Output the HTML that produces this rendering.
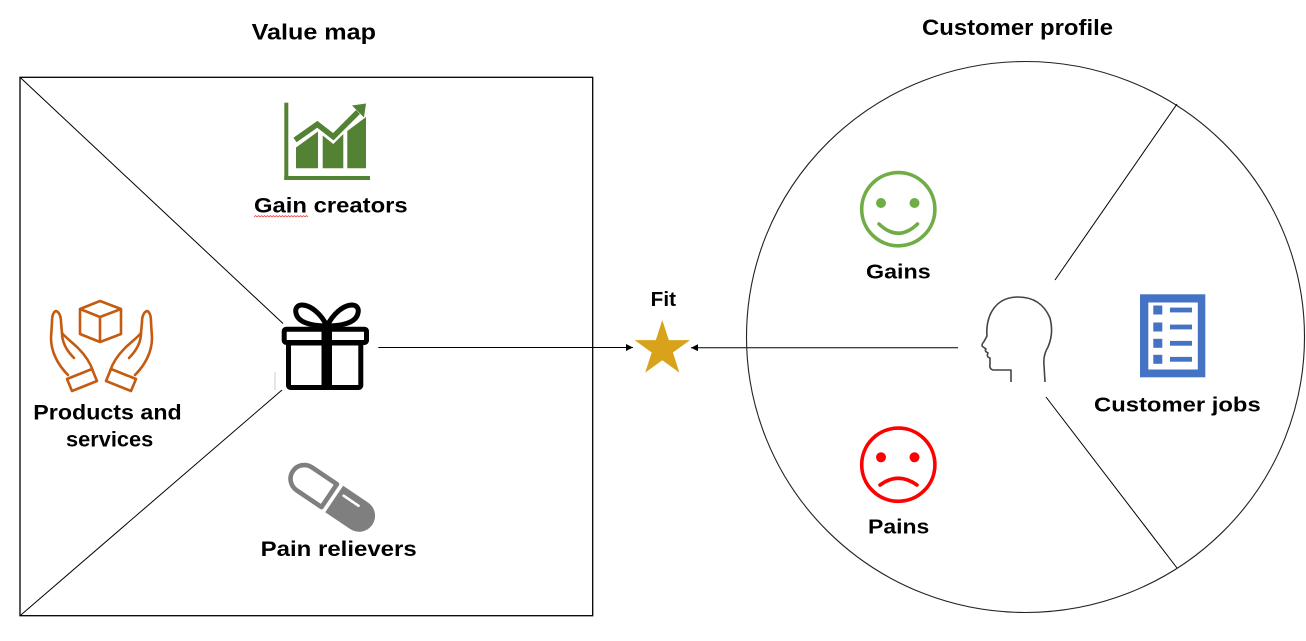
<!DOCTYPE html>
<html>
<head>
<meta charset="utf-8">
<style>
  html, body { margin: 0; padding: 0; background: #fff; }
  svg { display: block; }
  text { font-family: "Liberation Sans", "DejaVu Sans", sans-serif; font-weight: bold; fill: #000; }
</style>
</head>
<body>
<svg width="1306" height="641" viewBox="0 0 1306 641" xmlns="http://www.w3.org/2000/svg">
  <defs>
    <marker id="ah" markerWidth="8" markerHeight="8" refX="7" refY="3.5" orient="auto" markerUnits="userSpaceOnUse">
      <path d="M0,0 L7,3.5 L0,7 Z" fill="#000"/>
    </marker>
  </defs>

  <!-- Titles -->
  <text x="251.7" y="39.3" font-size="22" textLength="124.3" lengthAdjust="spacingAndGlyphs">Value map</text>
  <text x="922" y="34.8" font-size="22" textLength="191" lengthAdjust="spacingAndGlyphs">Customer profile</text>

  <!-- Value map box -->
  <rect x="20" y="77.3" width="572.7" height="538.4" fill="none" stroke="#000" stroke-width="1.3"/>
  <line x1="20" y1="77.3" x2="283" y2="323.5" stroke="#000" stroke-width="1"/>
  <line x1="20" y1="615.7" x2="282" y2="390" stroke="#000" stroke-width="1"/>

  <!-- Gain creators chart -->
  <g fill="#548235">
    <rect x="284.3" y="102.7" width="4" height="77.3"/>
    <rect x="284.3" y="176" width="85.7" height="4"/>
    <polygon points="296,147.5 318,131.5 318,168.3 296,168.3"/>
    <polygon points="322.7,135.5 333.3,144 343.3,134 343.3,168.3 322.7,168.3"/>
    <polygon points="347.3,131 366,117 366,168.3 347.3,168.3"/>
  </g>
  <polyline points="295,140 317.3,124.3 333.3,136.7 358,112" fill="none" stroke="#548235" stroke-width="5.5" stroke-linejoin="miter"/>
  <polygon points="352,105.5 366,103.5 364,117.5" fill="#548235"/>
  <text x="254" y="212.7" font-size="21" textLength="153.7" lengthAdjust="spacingAndGlyphs">Gain creators</text>
  <path d="M254,216.8 l1.5,-1.2 l1.5,1.2 l1.5,-1.2 l1.5,1.2 l1.5,-1.2 l1.5,1.2 l1.5,-1.2 l1.5,1.2 l1.5,-1.2 l1.5,1.2 l1.5,-1.2 l1.5,1.2 l1.5,-1.2 l1.5,1.2 l1.5,-1.2 l1.5,1.2 l1.5,-1.2 l1.5,1.2 l1.5,-1.2 l1.5,1.2 l1.5,-1.2 l1.5,1.2 l1.5,-1.2 l1.5,1.2 l1.5,-1.2 l1.5,1.2 l1.5,-1.2 l1.5,1.2 l1.5,-1.2 l1.5,1.2 l1.5,-1.2 l1.5,1.2 l1.5,-1.2 l1.5,1.2 l1.5,-1.2 l1.5,1.2" fill="none" stroke="#e33" stroke-width="0.8"/>

  <!-- Gift -->
  <g fill="none" stroke="#000" stroke-width="5" stroke-linejoin="round" stroke-linecap="round">
    <path d="M327,326 C314,300 290,300 297,316 C301,324 316,326 327,326"/>
    <path d="M327,326 C340,300 364,300 357,316 C353,324 338,326 327,326"/>
    <rect x="284.2" y="329.2" width="82.3" height="13.3" rx="2"/>
    <rect x="288.5" y="343" width="72.3" height="44.5" rx="2"/>
  </g>
  <rect x="321.5" y="327" width="10.5" height="62" fill="#000"/>
  <line x1="275" y1="372" x2="275" y2="390" stroke="#ccc" stroke-width="1"/>

  <!-- Products and services: hands with box -->
  <g fill="none" stroke="#C55A11" stroke-width="2.6" stroke-linejoin="round" stroke-linecap="round">
    <path d="M80,309 L100,301 L121,309 L121,334 L100,342 L80,334 Z M80,309 L100,317 L121,309 M100,317 L100,342"/>
    <g>
      <path d="M68,375 C58,365 51,352 51,338 L52,322 C52,316 53,312 56,311 C59,312 61,316 61,322 L62,333 C66,338 72,342 78,348 C84,354 90,362 93,371"/>
      <path d="M62,333 C62,342 66,350 74,358"/>
      <path d="M67,379 L92,369 L97,381 L72,391 Z"/>
    </g>
    <g transform="translate(203,0) scale(-1,1)">
      <path d="M68,375 C58,365 51,352 51,338 L52,322 C52,316 53,312 56,311 C59,312 61,316 61,322 L62,333 C66,338 72,342 78,348 C84,354 90,362 93,371"/>
      <path d="M62,333 C62,342 66,350 74,358"/>
      <path d="M67,379 L92,369 L97,381 L72,391 Z"/>
    </g>
  </g>
  <text x="33.3" y="419.3" font-size="21" textLength="148.4" lengthAdjust="spacingAndGlyphs">Products and</text>
  <text x="66" y="446.7" font-size="21" textLength="87.3" lengthAdjust="spacingAndGlyphs">services</text>

  <!-- Pill -->
  <g transform="translate(331.7,497.3) rotate(34)">
    <path d="M-3,-13.8 L-33,-13.8 A13.8,13.8 0 0 0 -33,13.8 L-3,13.8 Z" fill="none" stroke="#7F7F7F" stroke-width="4.6" stroke-linejoin="round"/>
    <path d="M3,-16 L33,-16 A16,16 0 0 1 33,16 L3,16 Z" fill="#7F7F7F"/>
    <line x1="9" y1="-8" x2="27" y2="-8" stroke="#fff" stroke-width="2.6" stroke-linecap="round"/>
  </g>
  <text x="260.7" y="556" font-size="21" textLength="156" lengthAdjust="spacingAndGlyphs">Pain relievers</text>

  <!-- Connectors -->
  <line x1="378.3" y1="347.5" x2="633" y2="347.5" stroke="#000" stroke-width="1" marker-end="url(#ah)"/>
  <line x1="958" y1="347.7" x2="691" y2="347.7" stroke="#000" stroke-width="1" marker-end="url(#ah)"/>

  <!-- Fit star -->
  <text x="650.7" y="306" font-size="20" textLength="25.3" lengthAdjust="spacingAndGlyphs">Fit</text>
  <polygon fill="#D8A21A" points="662.3,320 668.8,340.1 690,340.1 672.9,352.5 679.4,372.6 662.3,360.2 645.2,372.6 651.7,352.5 634.6,340.1 655.8,340.1"/>

  <!-- Customer profile circle -->
  <ellipse cx="1025.5" cy="337" rx="279" ry="275.5" fill="none" stroke="#222" stroke-width="1.1"/>
  <line x1="1177" y1="104" x2="1055" y2="280" stroke="#000" stroke-width="1"/>
  <line x1="1046" y1="397" x2="1177" y2="568" stroke="#000" stroke-width="1"/>

  <!-- Gains smiley -->
  <circle cx="898.3" cy="209.2" r="36.6" fill="none" stroke="#70AD47" stroke-width="3.6"/>
  <circle cx="881" cy="203" r="5" fill="#70AD47"/>
  <circle cx="914.5" cy="203" r="5" fill="#70AD47"/>
  <path d="M879,224 Q898.3,242.5 917.5,224" fill="none" stroke="#70AD47" stroke-width="3.6" stroke-linecap="round"/>
  <text x="866" y="278.3" font-size="20" textLength="64.7" lengthAdjust="spacingAndGlyphs">Gains</text>

  <!-- Pains sad face -->
  <circle cx="898.3" cy="464.7" r="36.6" fill="none" stroke="#FF0000" stroke-width="3.6"/>
  <circle cx="881" cy="457.3" r="5" fill="#FF0000"/>
  <circle cx="914.5" cy="457.3" r="5" fill="#FF0000"/>
  <path d="M880,485 Q898.3,471.5 917,485" fill="none" stroke="#FF0000" stroke-width="3.6" stroke-linecap="round"/>
  <text x="868" y="533.3" font-size="20" textLength="61.3" lengthAdjust="spacingAndGlyphs">Pains</text>

  <!-- Head -->
  <path d="M1011,382 L1011,370 L993,370 Q989,369 990,364 L990,358 Q986,357 988,353 Q984,351 986,349 L982.5,346.5 Q981,345 984,341.5 L987,336 Q986,325 990,315 Q998,297 1018,297 Q1041,297 1050,318 Q1054,333 1048,347 Q1043,355 1044,365 L1045,382" fill="none" stroke="#444" stroke-width="1.6" stroke-linejoin="round"/>

  <!-- Customer jobs document icon -->
  <rect x="1140" y="294.3" width="65.3" height="83" fill="#4472C4"/>
  <rect x="1148.3" y="302.5" width="49.5" height="67" fill="#fff"/>
  <g fill="#4472C4">
    <rect x="1153.3" y="305.5" width="9" height="9"/>
    <rect x="1170" y="307.6" width="22" height="4.8"/>
    <rect x="1153.3" y="322.5" width="9" height="9"/>
    <rect x="1170" y="324.6" width="22" height="4.8"/>
    <rect x="1153.3" y="338.8" width="9" height="9"/>
    <rect x="1170" y="340.9" width="22" height="4.8"/>
    <rect x="1153.3" y="354.8" width="9" height="9"/>
    <rect x="1170" y="356.9" width="22" height="4.8"/>
  </g>
  <text x="1094" y="411.7" font-size="20" textLength="166.7" lengthAdjust="spacingAndGlyphs">Customer jobs</text>
</svg>
</body>
</html>
